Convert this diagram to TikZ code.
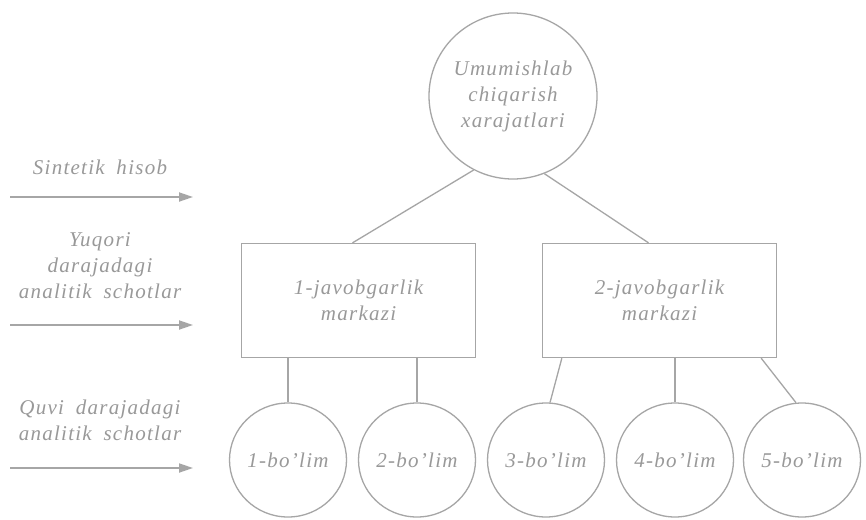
\documentclass[tikz,border=0pt]{standalone}
\usepackage{fontspec}
\setmainfont{Liberation Serif}[LetterSpace=6,WordSpace=1.8]
\usetikzlibrary{shapes.geometric,arrows.meta,calc}

\begin{document}
\begin{tikzpicture}[x=1pt,y=-1pt,
  txt/.style={text=black!40, font=\fontsize{21}{26}\selectfont\itshape, align=center},
  ln/.style={draw=black!35, line width=1.3pt},
  oval/.style={ellipse, ln, txt, inner sep=0pt},
  part/.style={oval, minimum width=117pt, minimum height=114pt},
  box/.style={rectangle, ln, txt, minimum width=234pt, minimum height=114pt},
  arr/.style={draw=black!35, line width=1.8pt, -{Triangle[length=14pt,width=9pt]}}
]
\useasboundingbox (0,0) rectangle (866,519);
\fill[white] (0,0) rectangle (866,519);

% hierarchy
\node[oval, minimum width=168pt, minimum height=166pt] (top) at (513,96)
  {Umumishlab\\chiqarish\\xarajatlari};
\node[box] (b1) at (358.5,300.5) {1-javobgarlik\\markazi};
\node[box] (b2) at (659.5,300.5) {2-javobgarlik\\markazi};

\node[part] (c1) at (288,460) {1-bo'lim};
\node[part] (c2) at (417,460) {2-bo'lim};
\node[part] (c3) at (546,460) {3-bo'lim};
\node[part] (c4) at (675,460) {4-bo'lim};
\node[part] (c5) at (802,460) {5-bo'lim};

\draw[ln] (top.242) -- ($(b1.north)+(-6,0)$);
\draw[ln] (top.292) -- ($(b2.north)+(-11,0)$);

\draw[ln] (b1.south -| c1.north) -- (c1.north);
\draw[ln] (b1.south -| c2.north) -- (c2.north);
\draw[ln] ($(b2.south west)+(20,0)$) -- (c3.86);
\draw[ln] (b2.south -| c4.north) -- (c4.north);
\draw[ln] ($(b2.south east)+(-16,0)$) -- (c5.96);

% level labels with arrows
\node[txt] (l1) at (100,167) {Sintetik hisob};
\node[txt] (l2) at (100,266) {Yuqori\\darajadagi\\analitik schotlar};
\node[txt] (l3) at (100,420) {Quvi darajadagi\\analitik schotlar};

\coordinate (a1s) at (10,197);  \coordinate (a1e) at (193,197);
\coordinate (a2s) at (10,325);  \coordinate (a2e) at (193,325);
\coordinate (a3s) at (10,468);  \coordinate (a3e) at (193,468);
\draw[arr] (a1s) -- (a1e);
\draw[arr] (a2s) -- (a2e);
\draw[arr] (a3s) -- (a3e);
\end{tikzpicture}
\end{document}
